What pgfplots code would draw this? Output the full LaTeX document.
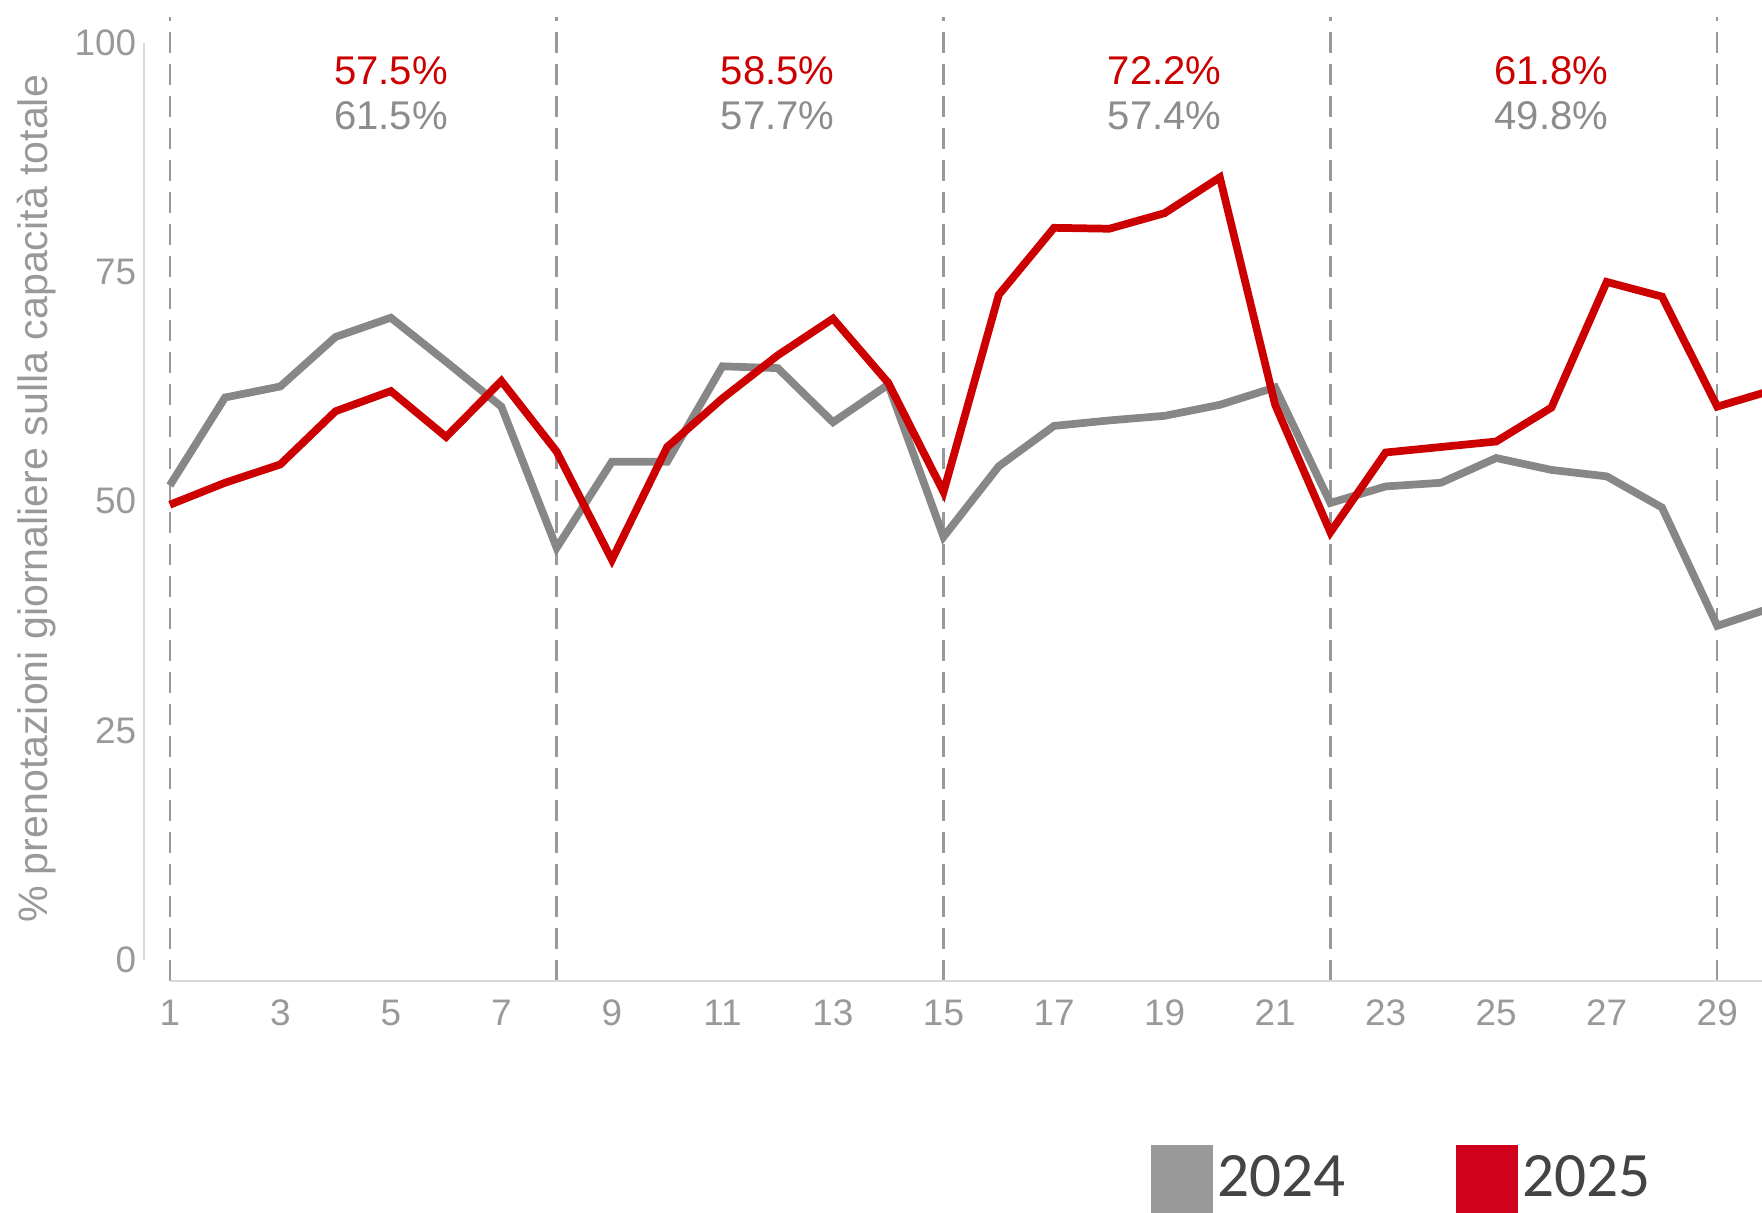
\documentclass[border=0pt]{standalone}
\usepackage{fontspec}
\setmainfont{Liberation Sans}
\newfontfamily\legfont{Carlito}
\usepackage{pgfplots}
\usepackage{pgfplotstable}
\pgfplotsset{compat=1.18}

\definecolor{g24}{HTML}{878787}
\definecolor{r25}{HTML}{CC0000}
\definecolor{leg24}{HTML}{999999}
\definecolor{leg25}{HTML}{D0021B}
\definecolor{ticktxt}{HTML}{999999}
\definecolor{annogray}{HTML}{8C8C8C}
\definecolor{divider}{HTML}{999999}
\definecolor{axisline}{HTML}{D9D9D9}
\definecolor{legtxt}{HTML}{444444}

% daily bookings as % of total capacity
\pgfplotstableread{
day v2024 v2025
1  51.7 49.6
2  61.3 52.0
3  62.5 54.0
4  67.9 59.8
5  70.0 62.0
6  65.2 57.0
7  60.3 63.1
8  44.9 55.4
9  54.3 43.6
10 54.3 55.9
11 64.7 61.2
12 64.5 65.9
13 58.6 69.9
14 62.7 62.9
15 46.1 51.0
16 53.8 72.5
17 58.2 79.8
18 58.8 79.7
19 59.3 81.4
20 60.5 85.3
21 62.4 60.5
22 49.8 46.6
23 51.6 55.3
24 52.0 55.9
25 54.7 56.5
26 53.4 60.2
27 52.7 73.9
28 49.3 72.3
29 36.4 60.3
30 38.4 62.1
}\occupancy

\begin{document}
\begin{tikzpicture}
\begin{axis}[
  scale only axis,
  width=161.82mm, height=96.41mm,
  xmin=0.53, xmax=29.81,
  ymin=-2.33, ymax=102.8,
  clip mode=individual,
  axis line style={draw=none},
  major tick length=0pt,
  xtick={1,3,...,29},
  ytick={0,25,50,75,100},
  xtick pos=left, ytick pos=left,
  /pgf/number format/assume math mode=true,
  tick label style={font=\fontsize{10.5}{12}\selectfont, text=ticktxt, inner sep=0pt},
  xticklabel style={anchor=center, yshift=-3.15mm},
  yticklabel style={anchor=east, xshift=-0.7mm},
  extra x ticks={1,8,15,22,29},
  extra x tick labels={},
  extra x tick style={grid=major,
    major grid style={divider, line width=0.7pt, dash pattern=on 2.1mm off 1.1mm}},
  legend columns=2,
  legend style={draw=none, fill=none, inner sep=0pt,
    at={(axis description cs:0.6218,-0.2054)}, anchor=west,
    nodes={inner sep=0pt, text=legtxt, font=\legfont\fontsize{18}{20}\selectfont},
    /tikz/every odd column/.append style={column sep=0.4mm},
    /tikz/every even column/.append style={column sep=11mm}},
  legend cell align=left,
]
\addplot[g24, line width=2.2pt,
  legend image code/.code={\fill[leg24] (0mm,-3mm) rectangle (5.5mm,3mm);}]
  table[x=day, y=v2024] {\occupancy};
\addlegendentry{2024}
\addplot[r25, line width=2.2pt,
  legend image code/.code={\fill[leg25] (0mm,-3mm) rectangle (5.5mm,3mm);}]
  table[x=day, y=v2025] {\occupancy};
\addlegendentry{2025}

% axis lines
\draw[axisline, line width=0.6pt] (axis cs:1,-2.33) -- (rel axis cs:1,0);
\draw[axisline, line width=0.6pt] (axis cs:0.53,0) -- (axis cs:0.53,100);

% weekly averages
\begin{scope}[every node/.style={font=\fontsize{11.4}{13}\selectfont, anchor=center}]
\node[text=r25] at (axis cs:5,96.9) {57.5\%};
\node[text=annogray] at (axis cs:5,92.0) {61.5\%};
\node[text=r25] at (axis cs:12,96.9) {58.5\%};
\node[text=annogray] at (axis cs:12,92.0) {57.7\%};
\node[text=r25] at (axis cs:19,96.9) {72.2\%};
\node[text=annogray] at (axis cs:19,92.0) {57.4\%};
\node[text=r25] at (axis cs:26,96.9) {61.8\%};
\node[text=annogray] at (axis cs:26,92.0) {49.8\%};
\end{scope}
\end{axis}

\node[rotate=90, text=ticktxt, font=\fontsize{11.7}{14}\selectfont]
  at ([xshift=-10.7mm]current axis.west) {\% prenotazioni giornaliere sulla capacità totale};

\pgfresetboundingbox
\path[use as bounding box] ([shift={(-14.38mm,-23.1mm)}]current axis.south west)
  rectangle ([shift={(0mm,1.69mm)}]current axis.north east);
\end{tikzpicture}
\end{document}
